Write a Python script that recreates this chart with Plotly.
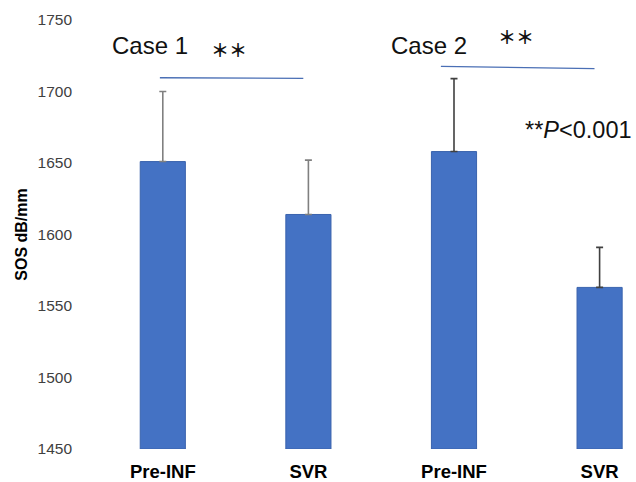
import plotly.graph_objects as go

tick_labels = ["Pre-INF", "SVR", "Pre-INF", "SVR"]
means = [1651, 1614, 1658, 1563]
sd_plus = [49, 38, 51, 28]
case_of_bar = [1, 1, 2, 2]
err_colors = {1: "#808080", 2: "#404040"}

x_idx = list(range(len(tick_labels)))

fig = go.Figure()
for case in (1, 2):
    idx = [i for i in x_idx if case_of_bar[i] == case]
    fig.add_trace(go.Bar(
        x=idx, y=[means[i] - 1450 for i in idx], base=1450,
        width=0.31,
        marker=dict(color="#4472C4", line=dict(color="#3A63AD", width=1)),
        error_y=dict(type="data", symmetric=False, array=[sd_plus[i] for i in idx],
                     arrayminus=[0] * len(idx),
                     color=err_colors[case], thickness=1.6, width=3.5),
        hoverinfo="skip",
    ))

# significance lines
fig.add_shape(type="line", x0=-0.02, x1=0.965, y0=1709.6, y1=1709.2,
              line=dict(color="#4A6FB5", width=1.3))
fig.add_shape(type="line", x0=1.91, x1=2.965, y0=1717.5, y1=1716.0,
              line=dict(color="#4A6FB5", width=1.3))

font_txt = "Arial, Liberation Sans, sans-serif"
ann = [
    dict(x=-0.088, y=1732.5, text="Case 1", size=24, fam=font_txt),
    dict(x=0.455, y=1729.5, text="<b>＊＊</b>", size=18, fam="Noto Sans CJK JP"),
    dict(x=1.83, y=1732.5, text="Case 2", size=24, fam=font_txt),
    dict(x=2.428, y=1738.5, text="<b>＊＊</b>", size=18, fam="Noto Sans CJK JP"),
]
for a in ann:
    fig.add_annotation(x=a["x"], y=a["y"], text=a["text"], showarrow=False,
                       font=dict(family=a["fam"], size=a["size"], color="#111111"),
                       xanchor="center", yanchor="middle")
fig.add_annotation(xref="paper", x=1.0, xshift=-2, y=1673, text="**<i>P</i><0.001", showarrow=False,
                   font=dict(family=font_txt, size=23.5, color="#111111"),
                   xanchor="right", yanchor="middle")

fig.update_layout(
    width=636, height=482,
    margin=dict(l=90, r=0, t=20, b=33),
    paper_bgcolor="white", plot_bgcolor="white",
    showlegend=False, barmode="overlay",
    xaxis=dict(range=[-0.5, 3.25], tickmode="array", tickvals=x_idx,
               ticktext=["<b>" + t + "</b>" for t in tick_labels],
               showgrid=False, zeroline=False, showline=False, ticks="",
               tickfont=dict(family=font_txt, size=18.5, color="black"),
               ticklabelstandoff=9),
    yaxis=dict(range=[1450, 1750], tickvals=[1450, 1500, 1550, 1600, 1650, 1700, 1750],
               showgrid=False, zeroline=False, showline=False, ticks="",
               tickfont=dict(family=font_txt, size=15.5, color="#404040"),
               ticklabelstandoff=17,
               title=dict(text="<b>SOS dB/mm</b>", standoff=5,
                          font=dict(family=font_txt, size=16, color="black"))),
)

fig.write_html("out.html", config={"displayModeBar": False},
               post_script="document.body.style.margin='0';document.body.style.overflow='hidden';")
